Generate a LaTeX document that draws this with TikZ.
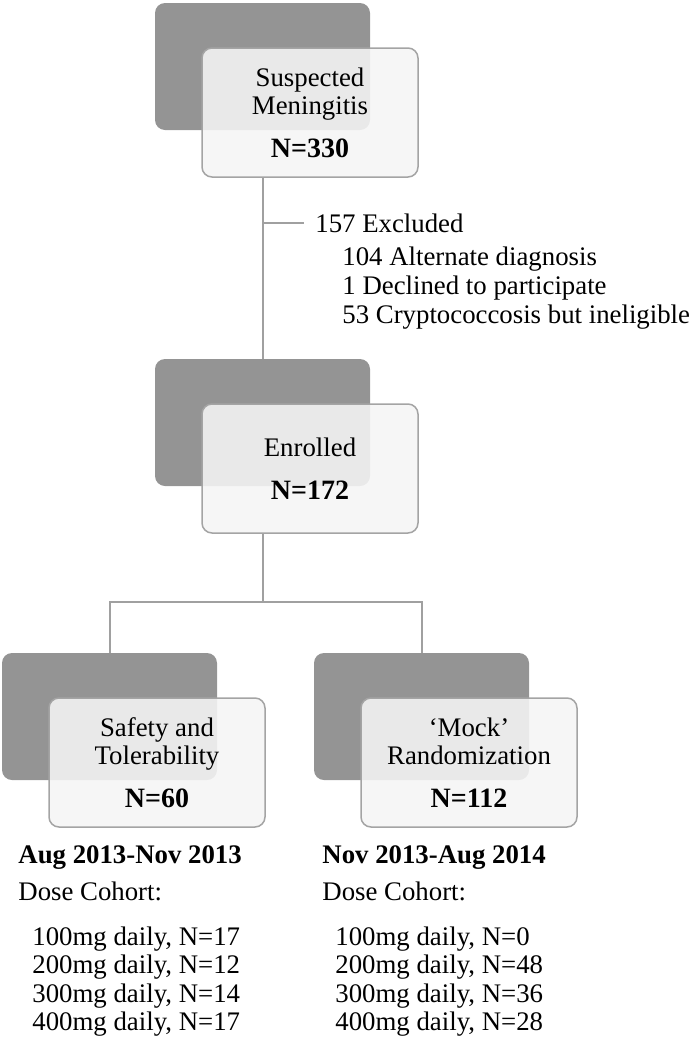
\documentclass[tikz,border=0pt]{standalone}
\usepackage{fontspec}
\setmainfont{Liberation Serif}
\usetikzlibrary{calc,positioning}
\definecolor{boxgray}{HTML}{949494}
\definecolor{edgegray}{HTML}{A4A4A4}
\definecolor{linegray}{HTML}{A0A0A0}
\newcommand{\boxfont}{\fontsize{13.4}{14}\selectfont}
\newcommand{\nfont}{\fontsize{14}{14}\selectfont\bfseries}
\tikzset{%
	backbox/.style  = {rectangle, rounded corners=5pt, fill=boxgray, minimum width=107.5pt, minimum height=63.5pt, inner sep=0pt},
	frontbox/.style = {rectangle, draw=edgegray, line width=0.75pt, rounded corners=5pt, fill=white!96!black, fill opacity=0.88, text opacity=1, minimum width=108pt, minimum height=64.5pt, inner sep=0pt, align=center, font=\boxfont},
	link/.style     = {draw=linegray, line width=1pt},
	listline/.style = {anchor=base west, inner sep=0pt, font=\boxfont},
}

\begin{document}
\begin{tikzpicture}[x=0.5pt,y=-0.5pt]
	\useasboundingbox (0,0) rectangle (691,1050);
	% boxes
	\node [backbox] (suspback) at (262.5,66.5) {};
	\node [frontbox] (susp) at ($(suspback)+(47.5,46)$) {Suspected\\Meningitis\\[7.5pt]{\nfont N=330}};
	\node [backbox] (enrback) at (262.5,422.5) {};
	\node [frontbox] (enr) at ($(enrback)+(47.5,46)$) {Enrolled\\[7.5pt]{\nfont N=172}};
	\node [backbox] (safeback) at (109.5,716.5) {};
	\node [frontbox] (safe) at ($(safeback)+(47.5,46)$) {Safety and\\Tolerability\\[7.5pt]{\nfont N=60}};
	\node [backbox] (mockback) at (421.5,716.5) {};
	\node [frontbox] (mock) at ($(mockback)+(47.5,46)$) {`Mock'\\Randomization\\[7.5pt]{\nfont N=112}};
	
	% exclusions
	\node [listline] (excl) at (315,232) {157 Excluded};
	\node [listline] (exclalt) at (342,265) {104 Alternate diagnosis};
	\node [listline] (excldec) at (342,294) {1 Declined to participate};
	\node [listline] (exclcry) at (342,323) {53 Cryptococcosis but ineligible};
	
	% cohorts
	\node [listline, font=\boxfont\bfseries] (safeper) at (18,863) {Aug 2013-Nov 2013};
	\node [listline] (safedose) at (18,900) {Dose Cohort:};
	\node [listline, font=\boxfont\bfseries] (mockper) at (322,863) {Nov 2013-Aug 2014};
	\node [listline] (mockdose) at (322,900) {Dose Cohort:};
	\foreach \mg/\ns/\nm [count=\i from 0] in {100/17/0, 200/12/48, 300/14/36, 400/17/28} {
		\node [listline] (safe\mg) at (32,945+28.5*\i) {\mg mg daily, N=\ns};
		\node [listline] (mock\mg) at (335,945+28.5*\i) {\mg mg daily, N=\nm};
	}
	
	\coordinate (exclend) at ($(excl.west)+(-11,0)$);
	\coordinate (split) at (262.5,602);
	
	\draw [link] (suspback |- susp.south) -- (enrback.north);
	\draw [link] (suspback |- exclend) -- (exclend);
	\draw [link] (enrback |- enr.south) -- (split);
	\draw [link] (safeback.north) |- (split) -| (mockback.north);
\end{tikzpicture}
\end{document}
